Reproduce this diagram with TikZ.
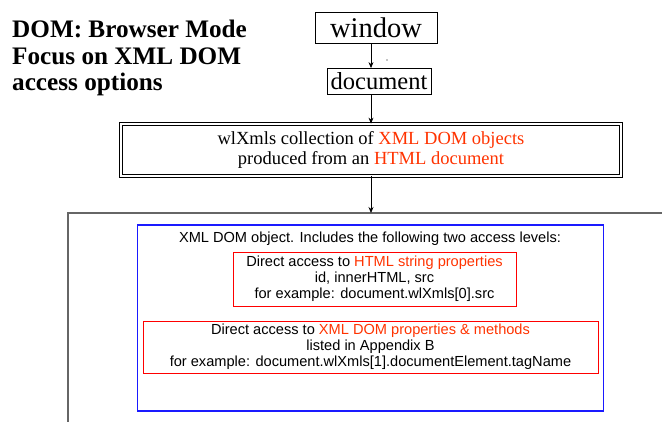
\documentclass[tikz,border=0pt]{standalone}
\usepackage{fontspec}
\setmainfont{Liberation Serif}
\setsansfont{Liberation Sans}
\usetikzlibrary{arrows.meta}
\definecolor{hot}{HTML}{FF3300}
\definecolor{redline}{HTML}{FF0000}
\definecolor{blueline}{HTML}{1A1AFF}
\definecolor{greyline}{HTML}{666666}
\tikzset{
  arr/.style={-{Stealth[length=6pt,width=5pt]}, line width=0.8pt},
  plainbox/.style={draw=black, line width=0.8pt, inner sep=0pt},
  redbox/.style={draw=redline, line width=0.9pt, inner sep=0pt},
  sanstext/.style={font=\sffamily\fontsize{14.6}{16}\selectfont, align=center},
}
\begin{document}
\begin{tikzpicture}[x=1pt,y=-1pt]
\useasboundingbox[fill=white] (0,0) rectangle (662,422);
% title
\node[anchor=base west, align=left, font=\bfseries\fontsize{25.2}{26.5}\selectfont, inner sep=0pt] (title) at (12,91)
  {DOM: Browser Mode\\Focus on XML DOM\\access options};
% window
\node[plainbox, minimum width=122pt, minimum height=31pt, font=\fontsize{28.5}{32}\selectfont] (win) at (376,28) {window};
% document
\node[plainbox, minimum width=104pt, minimum height=26pt, font=\fontsize{24.5}{28}\selectfont] (doc) at (379,81.5) {document};
\fill (387,60) circle (0.6pt);
% wlXmls
\node[draw=black, line width=0.8pt, double=white, double distance=1.6pt, minimum width=500pt, minimum height=52pt, align=center, font=\fontsize{18.5}{20}\selectfont] (wl) at (371,150)
  {wlXmls collection of \textcolor{hot}{XML DOM objects}\\produced from an \textcolor{hot}{HTML document}};
% outer grey frame
\coordinate (fl) at (68,422);
\coordinate (ftl) at (68,213);
\coordinate (ftr) at (662,213);
\draw[greyline, line width=1.2pt] (fl) -- (ftl) -- (ftr);
\coordinate (ftop) at (371,213);
% blue box
\draw[blueline, line width=1.1pt] (137.5,225) rectangle (603.5,411);
\node[sanstext] (head) at (370,239) {XML DOM object. Includes the following two access levels:};
\node[redbox, minimum width=283pt, minimum height=54pt] (r1) at (374.5,279) {};
\node[sanstext] at (r1) {Direct access to \textcolor{hot}{HTML string properties}\\id, innerHTML, src\\for example: document.wlXmls[0].src};
\node[redbox, minimum width=455pt, minimum height=52pt] (r2) at (370.5,347) {};
\node[sanstext] at (r2) {Direct access to \textcolor{hot}{XML DOM properties \& methods}\\listed in Appendix B\\for example: document.wlXmls[1].documentElement.tagName};
% arrows
\draw[arr] (win.south -| ftop) -- (doc.north -| ftop);
\draw[arr] (doc.south -| ftop) -- (wl.north -| ftop);
\draw[arr] (wl.south -| ftop) -- (ftop);
\end{tikzpicture}
\end{document}
